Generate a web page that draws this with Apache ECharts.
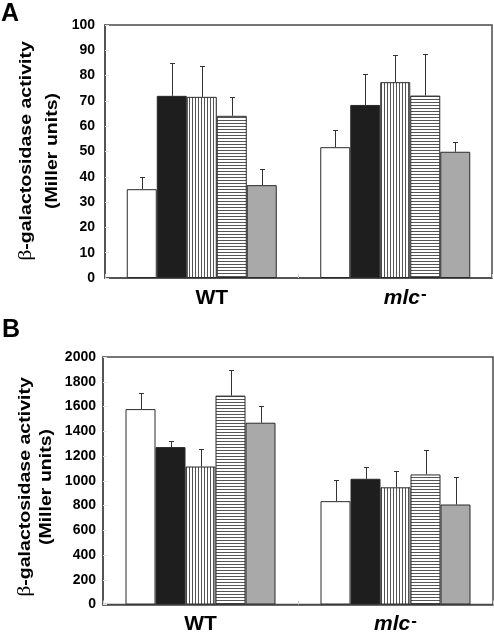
<!DOCTYPE html>
<html>
<head>
<meta charset="utf-8">
<script src="https://cdn.jsdelivr.net/npm/echarts/dist/echarts.min.js"></script>
<style>
html,body{margin:0;padding:0;background:#fff;}
#chart{width:494px;height:635px;}
</style>
</head>
<body>
<div id="chart"></div>
<script>
// ---- data ----
const categories = ['WT', 'mlc'];
const groupNames = ['white', 'black', 'vertical', 'horizontal', 'gray'];

// Panel A (Miller units)
const aWhite = [35.1, 51.7];       const aWhiteErr = [4.8, 6.7];
const aBlack = [72.0, 68.4];       const aBlackErr = [13.0, 12.1];
const aVertical = [71.6, 77.4];    const aVerticalErr = [12.1, 10.6];
const aHorizontal = [64.1, 72.1];  const aHorizontalErr = [7.3, 16.3];
const aGray = [36.7, 49.9];        const aGrayErr = [6.3, 3.7];
const aTicks = [0, 10, 20, 30, 40, 50, 60, 70, 80, 90, 100];

// Panel B (Miller units)
const bWhite = [1579, 835];        const bWhiteErr = [128, 168];
const bBlack = [1272, 1016];       const bBlackErr = [48, 93];
const bVertical = [1115, 947];     const bVerticalErr = [144, 133];
const bHorizontal = [1688, 1051];  const bHorizontalErr = [203, 200];
const bGray = [1469, 808];         const bGrayErr = [139, 219];
const bTicks = [0, 200, 400, 600, 800, 1000, 1200, 1400, 1600, 1800, 2000];

// ---- styling helpers ----
function stripes(vertical) {
  const c = document.createElement('canvas');
  c.width = vertical ? 3 : 1;
  c.height = vertical ? 1 : 3;
  const g = c.getContext('2d');
  g.fillStyle = '#ffffff';
  g.fillRect(0, 0, c.width, c.height);
  g.fillStyle = '#555555';
  g.fillRect(0, 0, 1, 1);
  return c;
}
const fills = [
  '#ffffff',
  '#1e1e1e',
  { image: stripes(true), repeat: 'repeat' },
  { image: stripes(false), repeat: 'repeat' },
  '#a9a9a9'
];
const BAR_W = 30;
const axisColor = '#4a4a4a';

function buildPanel(gi, means, errs) {
  const series = means.map((vals, i) => ({
    type: 'bar',
    name: groupNames[i],
    xAxisIndex: gi, yAxisIndex: gi,
    barWidth: BAR_W, barGap: '0%',
    data: vals,
    itemStyle: { color: fills[i], borderColor: '#2a2a2a', borderWidth: 1 },
    emphasis: { disabled: true },
    animation: false
  }));
  const errData = [];
  means.forEach((vals, i) => vals.forEach((v, c) => errData.push([c, i, v, errs[i][c]])));
  series.push({
    type: 'custom',
    xAxisIndex: gi, yAxisIndex: gi,
    z: 5,
    animation: false,
    encode: { x: 0, y: 2 },
    data: errData,
    renderItem: function (params, api) {
      const cat = api.value(0), idx = api.value(1), v = api.value(2), e = api.value(3);
      const p0 = api.coord([cat, v]);
      const p1 = api.coord([cat, v + e]);
      const x = Math.round(p0[0] + (idx - 2) * BAR_W) + 0.5;
      const yt = Math.round(p1[1]) + 0.5;
      return {
        type: 'group',
        children: [
          { type: 'line', shape: { x1: x, y1: p0[1], x2: x, y2: yt }, style: { stroke: '#333', lineWidth: 1 } },
          { type: 'line', shape: { x1: x - 2.5, y1: yt, x2: x + 2.5, y2: yt }, style: { stroke: '#333', lineWidth: 1 } }
        ]
      };
    }
  });
  return series;
}

function catLabelFmt(v) {
  return v === 'mlc' ? '{i|mlc}{s|-}' : '{b|' + v + '}';
}
const catRich = {
  b: { fontFamily: 'Liberation Sans', fontWeight: 'bold', fontSize: 21, lineHeight: 24, color: '#000' },
  i: { fontFamily: 'Liberation Sans', fontWeight: 'bold', fontStyle: 'italic', fontSize: 21, lineHeight: 24, color: '#000' },
  s: { fontFamily: 'Liberation Sans', fontWeight: 'bold', fontSize: 17, lineHeight: 1, color: '#000', verticalAlign: 'top', padding: [0, 0, 0, 1] }
};

function xAxisCfg(gi, pad) {
  return {
    type: 'category', gridIndex: gi, data: categories,
    axisLine: { lineStyle: { color: axisColor, width: 1.5 } },
    axisTick: { show: true, inside: true, length: 4, lineStyle: { color: '#d0d0d0' } },
    axisLabel: { formatter: catLabelFmt, rich: catRich, margin: 8, padding: [0, 0, 0, pad] }
  };
}
function yAxisCfg(gi, ticks, fs, margin) {
  return {
    type: 'value', gridIndex: gi,
    min: ticks[0], max: ticks[ticks.length - 1], interval: ticks[1] - ticks[0],
    axisLine: { show: true, lineStyle: { color: axisColor, width: 1.5 } },
    axisTick: { show: true, inside: true, length: 4, lineStyle: { color: '#e2e2e2' } },
    splitLine: { show: false },
    axisLabel: { fontFamily: 'Liberation Sans', fontWeight: 'bold', fontSize: fs, color: '#000', margin: margin,
      formatter: function (v) { return String(v); } }
  };
}

function yName(x1, x2, yc) {
  const rich = {
    g: { fontFamily: 'Liberation Serif', fontSize: 19, fontWeight: 'normal', fill: '#000' },
    b: { fontFamily: 'Liberation Sans', fontSize: 17, fontWeight: 'bold', fill: '#000' }
  };
  return [
    { type: 'text', x: x1, y: yc, rotation: Math.PI / 2, scaleX: 1.15,
      style: { text: '{g|β}{b|-galactosidase activity}', rich: rich, align: 'center', verticalAlign: 'middle' } },
    { type: 'text', x: x2, y: yc, rotation: Math.PI / 2, scaleX: 1.15,
      style: { text: '{b|(Miller units)}', rich: rich, align: 'center', verticalAlign: 'middle' } }
  ];
}

const chart = echarts.init(document.getElementById('chart'), null, { renderer: 'canvas' });
chart.setOption({
  animation: false,
  backgroundColor: '#ffffff',
  grid: [
    { left: 105, top: 25, width: 387, height: 253, show: true, borderColor: axisColor, borderWidth: 1.5, backgroundColor: 'transparent' },
    { left: 103, top: 357, width: 390, height: 250, show: true, borderColor: axisColor, borderWidth: 1.5, backgroundColor: 'transparent' }
  ],
  xAxis: [xAxisCfg(0, 20), xAxisCfg(1, 0)],
  yAxis: [yAxisCfg(0, aTicks, 14, 10), yAxisCfg(1, bTicks, 14, 7)],
  series: [].concat(
    buildPanel(0,
      [aWhite, aBlack, aVertical, aHorizontal, aGray],
      [aWhiteErr, aBlackErr, aVerticalErr, aHorizontalErr, aGrayErr]),
    buildPanel(1,
      [bWhite, bBlack, bVertical, bHorizontal, bGray],
      [bWhiteErr, bBlackErr, bVerticalErr, bHorizontalErr, bGrayErr])
  ),
  graphic: [
    { type: 'text', left: 1, top: 2, style: { text: 'A', fontFamily: 'Liberation Sans', fontWeight: 'bold', fontSize: 25, fill: '#000' } },
    { type: 'text', left: 2, top: 318, style: { text: 'B', fontFamily: 'Liberation Sans', fontWeight: 'bold', fontSize: 25, fill: '#000' } }
  ].concat(yName(26, 52, 151), yName(25, 46, 487))
});
</script>
</body>
</html>
